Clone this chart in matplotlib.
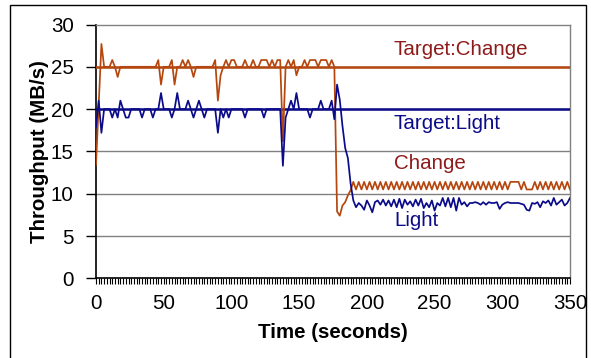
import numpy as np
import matplotlib.pyplot as plt
from matplotlib.patches import Rectangle

plt.rcParams['font.family'] = ['Liberation Sans', 'DejaVu Sans']

# sample times (s)
time = np.arange(0, 351, 2)

light = [
    17.9, 21.0, 17.2, 20, 20, 20, 19, 20, 19, 21,
    20, 19, 19, 20, 20, 20, 20, 19, 20, 20,
    20, 19, 20, 20, 21.9, 20, 20, 20, 19, 20,
    21.9, 20, 20, 20, 21, 20, 19, 20, 21, 20,
    19, 20, 20, 20, 20, 17.2, 20, 19, 20, 19,
    20, 20, 20, 20, 20, 19, 20, 20, 20, 20,
    20, 20, 19, 20, 20, 20, 20, 20, 20, 13.3,
    19, 20, 21, 20, 21.9, 20, 20, 20, 20, 19,
    20, 20, 20, 21, 20, 20, 20, 21, 18.8, 22.9,
    21.1, 18.0, 15.4, 14.2, 11.2, 9.2, 8.4, 8.9, 8.6, 8.1,
    9.2, 8.6, 7.8, 9.0, 9.2, 8.7, 9.3, 8.6, 9.2, 8.5,
    9.3, 8.4, 9.4, 8.3, 9.3, 8.7, 9.1, 8.5, 9.3, 8.6,
    9.4, 8.3, 8.9, 8.4, 9.2, 8.0, 8.9, 8.6, 9.5, 8.5,
    9.5, 8.4, 9.5, 8.0, 9.5, 8.7, 9.0, 8.5, 8.9, 8.9,
    9.0, 8.9, 8.7, 9.0, 8.7, 9.0, 8.9, 8.9, 9.0, 8.2,
    8.7, 8.9, 9.0, 8.9, 8.9, 8.9, 8.9, 8.8, 8.7, 8.1,
    8.0, 8.9, 8.8, 9.0, 8.4, 9.1, 8.9, 9.2, 8.6, 9.5,
    8.7, 9.0, 9.3, 8.6, 8.9, 9.5,
]

change = [
    13.4, 20.5, 27.7, 25, 25, 25, 25.8, 25, 23.8, 25,
    25, 25, 25, 25, 25, 25, 25, 25, 25, 25,
    25, 25, 25, 25.8, 22.9, 25, 25, 25, 25.8, 22.9,
    25, 25, 25.8, 25, 25.8, 25, 23.8, 25, 25, 25,
    25, 25, 25, 25, 25.8, 21.0, 24.0, 25, 25.8, 25,
    25.8, 25.8, 25, 25, 25, 25.8, 25, 25, 25.8, 25,
    25, 25.8, 25.8, 25.8, 25, 25.8, 25, 25.8, 25.8, 16.2,
    25, 25.8, 25, 25.8, 24.0, 25, 25, 25.8, 25, 25.8,
    25.8, 25.8, 25, 25.8, 25.8, 25.8, 25, 25.8, 25, 7.9,
    7.4, 8.6, 9.0, 9.8, 10.4, 11.4, 10.5, 11.4, 10.5, 11.4,
    10.5, 11.4, 10.5, 11.4, 10.5, 11.4, 10.5, 11.4, 10.5, 11.4,
    10.5, 11.4, 10.5, 11.4, 10.5, 11.4, 10.5, 11.4, 10.5, 11.4,
    10.5, 11.4, 10.5, 11.4, 10.5, 11.4, 10.5, 11.4, 10.5, 11.4,
    10.5, 11.4, 10.5, 11.4, 10.5, 11.4, 10.5, 11.4, 10.5, 11.4,
    10.5, 11.4, 10.5, 11.4, 10.5, 11.4, 10.5, 11.4, 10.5, 11.4,
    10.5, 11.4, 10.5, 11.4, 11.4, 11.4, 11.4, 10.5, 11.4, 10.5,
    10.5, 10.5, 11.4, 10.5, 11.4, 10.5, 11.4, 10.5, 11.4, 10.5,
    11.4, 10.5, 11.4, 10.5, 11.4, 10.5,
]

target_change = 25
target_light = 20

orange = '#B5470E'
navy = '#0B0B8A'
maroon = '#8E1A1A'

fig = plt.figure(figsize=(5.91, 3.58), dpi=100)
ax = fig.add_axes([96 / 591, 79.7 / 358, 474 / 591, 253.8 / 358])

# outer chart frame (bottom edge runs past the picture)
fig.patches.append(Rectangle((10 / 591, -0.05), 576 / 591, 1 - 5 / 358 + 0.05,
                             transform=fig.transFigure, fill=False,
                             edgecolor='black', linewidth=1.0))

for v in range(5, 30, 5):
    ax.axhline(v, color='#808080', linewidth=1.0, zorder=1)

ax.plot(time, np.full(len(time), target_change), color=orange, linewidth=1.8, zorder=3)
ax.plot(time, np.full(len(time), target_light), color=navy, linewidth=1.8, zorder=3)
ax.plot(time, change, color=orange, linewidth=1.25, zorder=4)
ax.plot(time, light, color=navy, linewidth=1.25, zorder=4)

fs = 14.8
ax.text(219.5, 26.4, 'Target:Change', color=maroon, fontsize=fs)
ax.text(219.5, 17.6, 'Target:Light', color=navy, fontsize=fs)
ax.text(220, 12.9, 'Change', color=maroon, fontsize=fs)
ax.text(220, 6.2, 'Light', color=navy, fontsize=fs)

ax.set_xlim(0, 350)
ax.set_ylim(0, 30)
ax.set_yticks(range(0, 31, 5))
ax.set_xticks(range(0, 351, 50))
ax.set_xticks(time, minor=True)
ax.tick_params(axis='y', direction='out', length=7, width=1, pad=9, labelsize=fs)
ax.tick_params(axis='x', which='major', direction='out', length=4, width=0.8, pad=7, labelsize=fs)
ax.tick_params(axis='x', which='minor', direction='out', length=4, width=0.8)

for side in ['top', 'right']:
    ax.spines[side].set_color('#808080')
    ax.spines[side].set_linewidth(1.0)
for side in ['left', 'bottom']:
    ax.spines[side].set_color('black')
    ax.spines[side].set_linewidth(1.2)

ax.set_xlabel('Time (seconds)', fontsize=fs, fontweight='bold')
ax.set_ylabel('Throughput (MB/s)', fontsize=fs, fontweight='bold')
ax.xaxis.set_label_coords(0.5, -0.175)
ax.yaxis.set_label_coords(-0.10, 0.5)

fig.savefig('out.png', dpi=100)
